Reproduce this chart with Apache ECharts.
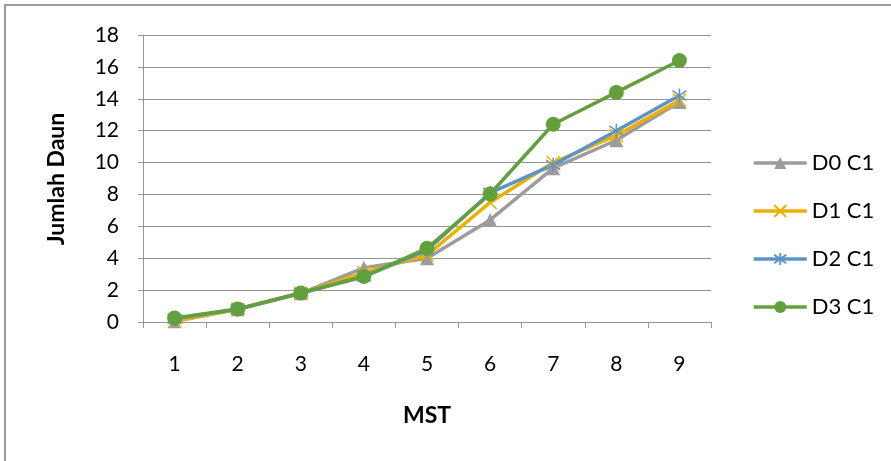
<!DOCTYPE html>
<html>
<head>
<meta charset="utf-8">
<script src="https://cdn.jsdelivr.net/npm/echarts@6/dist/echarts.min.js"></script>
<style>
html,body{margin:0;padding:0;background:#fff;}
#chart{width:891px;height:461px;}
</style>
</head>
<body>
<div id="chart"></div>
<script>
var categories = ['1','2','3','4','5','6','7','8','9'];
var seriesNames = ['D0 C1','D1 C1','D2 C1','D3 C1'];
var d0 = [0.05, 0.8, 1.8, 3.4, 4.0, 6.4, 9.65, 11.4, 13.8];
var d1 = [0.05, 0.8, 1.8, 3.1, 4.2, 7.5, 10.0, 11.7, 13.9];
var d2 = [0.2, 0.8, 1.8, 2.85, 4.5, 8.1, 9.85, 12.0, 14.2];
var d3 = [0.25, 0.82, 1.82, 2.85, 4.62, 8.03, 12.4, 14.4, 16.4];
var yTicks = {min: 0, max: 18, interval: 2};
var xTitle = 'MST';
var yTitle = 'Jumlah Daun';

var font = 'Lato, "Liberation Sans", sans-serif';
var gridColor = '#959595';
var colors = ['#9C9C9C', '#EBB000', '#5B93CB', '#62A03E'];

function mk(name, data, color, symbol, size, stroke) {
  var s = {
    name: name, type: 'line', data: data,
    symbol: symbol, symbolSize: size,
    lineStyle: {color: color, width: 3.5},
    itemStyle: {color: color},
    emphasis: {disabled: true}
  };
  if (stroke) { s.itemStyle.borderColor = color; s.itemStyle.borderWidth = 1.5; }
  return s;
}

var chart = echarts.init(document.getElementById('chart'), null, {renderer: 'canvas'});
chart.setOption({
  animation: false,
  backgroundColor: '#fff',
  textStyle: {fontFamily: font},
  graphic: [{
    type: 'rect', silent: true,
    shape: {x: 5, y: 5, width: 1000, height: 1000},
    style: {fill: 'none', stroke: '#9A9A9A', lineWidth: 2}
  }, {
    type: 'text', silent: true,
    x: 57, y: 179, rotation: Math.PI / 2,
    style: {text: yTitle, fontFamily: font, fontSize: 23, fontWeight: 'bold', fill: '#000',
            align: 'center', verticalAlign: 'middle'}
  }],
  grid: {left: 143, right: 180, top: 35, bottom: 139, containLabel: false},
  legend: {
    orient: 'vertical', left: 752, top: 152, padding: 0,
    itemWidth: 53, itemHeight: 15, itemGap: 26,
    lineStyle: {width: 3.5},
    textStyle: {fontFamily: font, fontSize: 22, color: '#000', lineHeight: 22},
    data: seriesNames
  },
  xAxis: {
    type: 'category', data: categories, boundaryGap: true,
    name: xTitle, nameLocation: 'middle', nameGap: 82,
    nameTextStyle: {fontFamily: font, fontSize: 23, fontWeight: 'bold', color: '#000'},
    axisLine: {show: true, lineStyle: {color: gridColor, width: 1}},
    axisTick: {show: true, alignWithLabel: false, length: 6, lineStyle: {color: gridColor}},
    axisLabel: {fontFamily: font, fontSize: 21, color: '#000', margin: 32},
    splitLine: {show: false}
  },
  yAxis: {
    type: 'value', min: yTicks.min, max: yTicks.max, interval: yTicks.interval,
    axisLine: {show: true, lineStyle: {color: gridColor, width: 1}},
    axisTick: {show: true, length: 5, lineStyle: {color: gridColor}},
    axisLabel: {fontFamily: font, fontSize: 21, color: '#000', margin: 24},
    splitLine: {show: true, lineStyle: {color: gridColor, width: 1}}
  },
  series: [
    mk(seriesNames[0], d0, colors[0], 'triangle', 14, false),
    mk(seriesNames[1], d1, colors[1], 'path://M0,0L10,10M10,0L0,10', 13, true),
    mk(seriesNames[2], d2, colors[2], 'path://M5,0L5,10M0,1.5L10,8.5M10,1.5L0,8.5', 14, true),
    mk(seriesNames[3], d3, colors[3], 'circle', 15, false)
  ]
});
</script>
</body>
</html>
